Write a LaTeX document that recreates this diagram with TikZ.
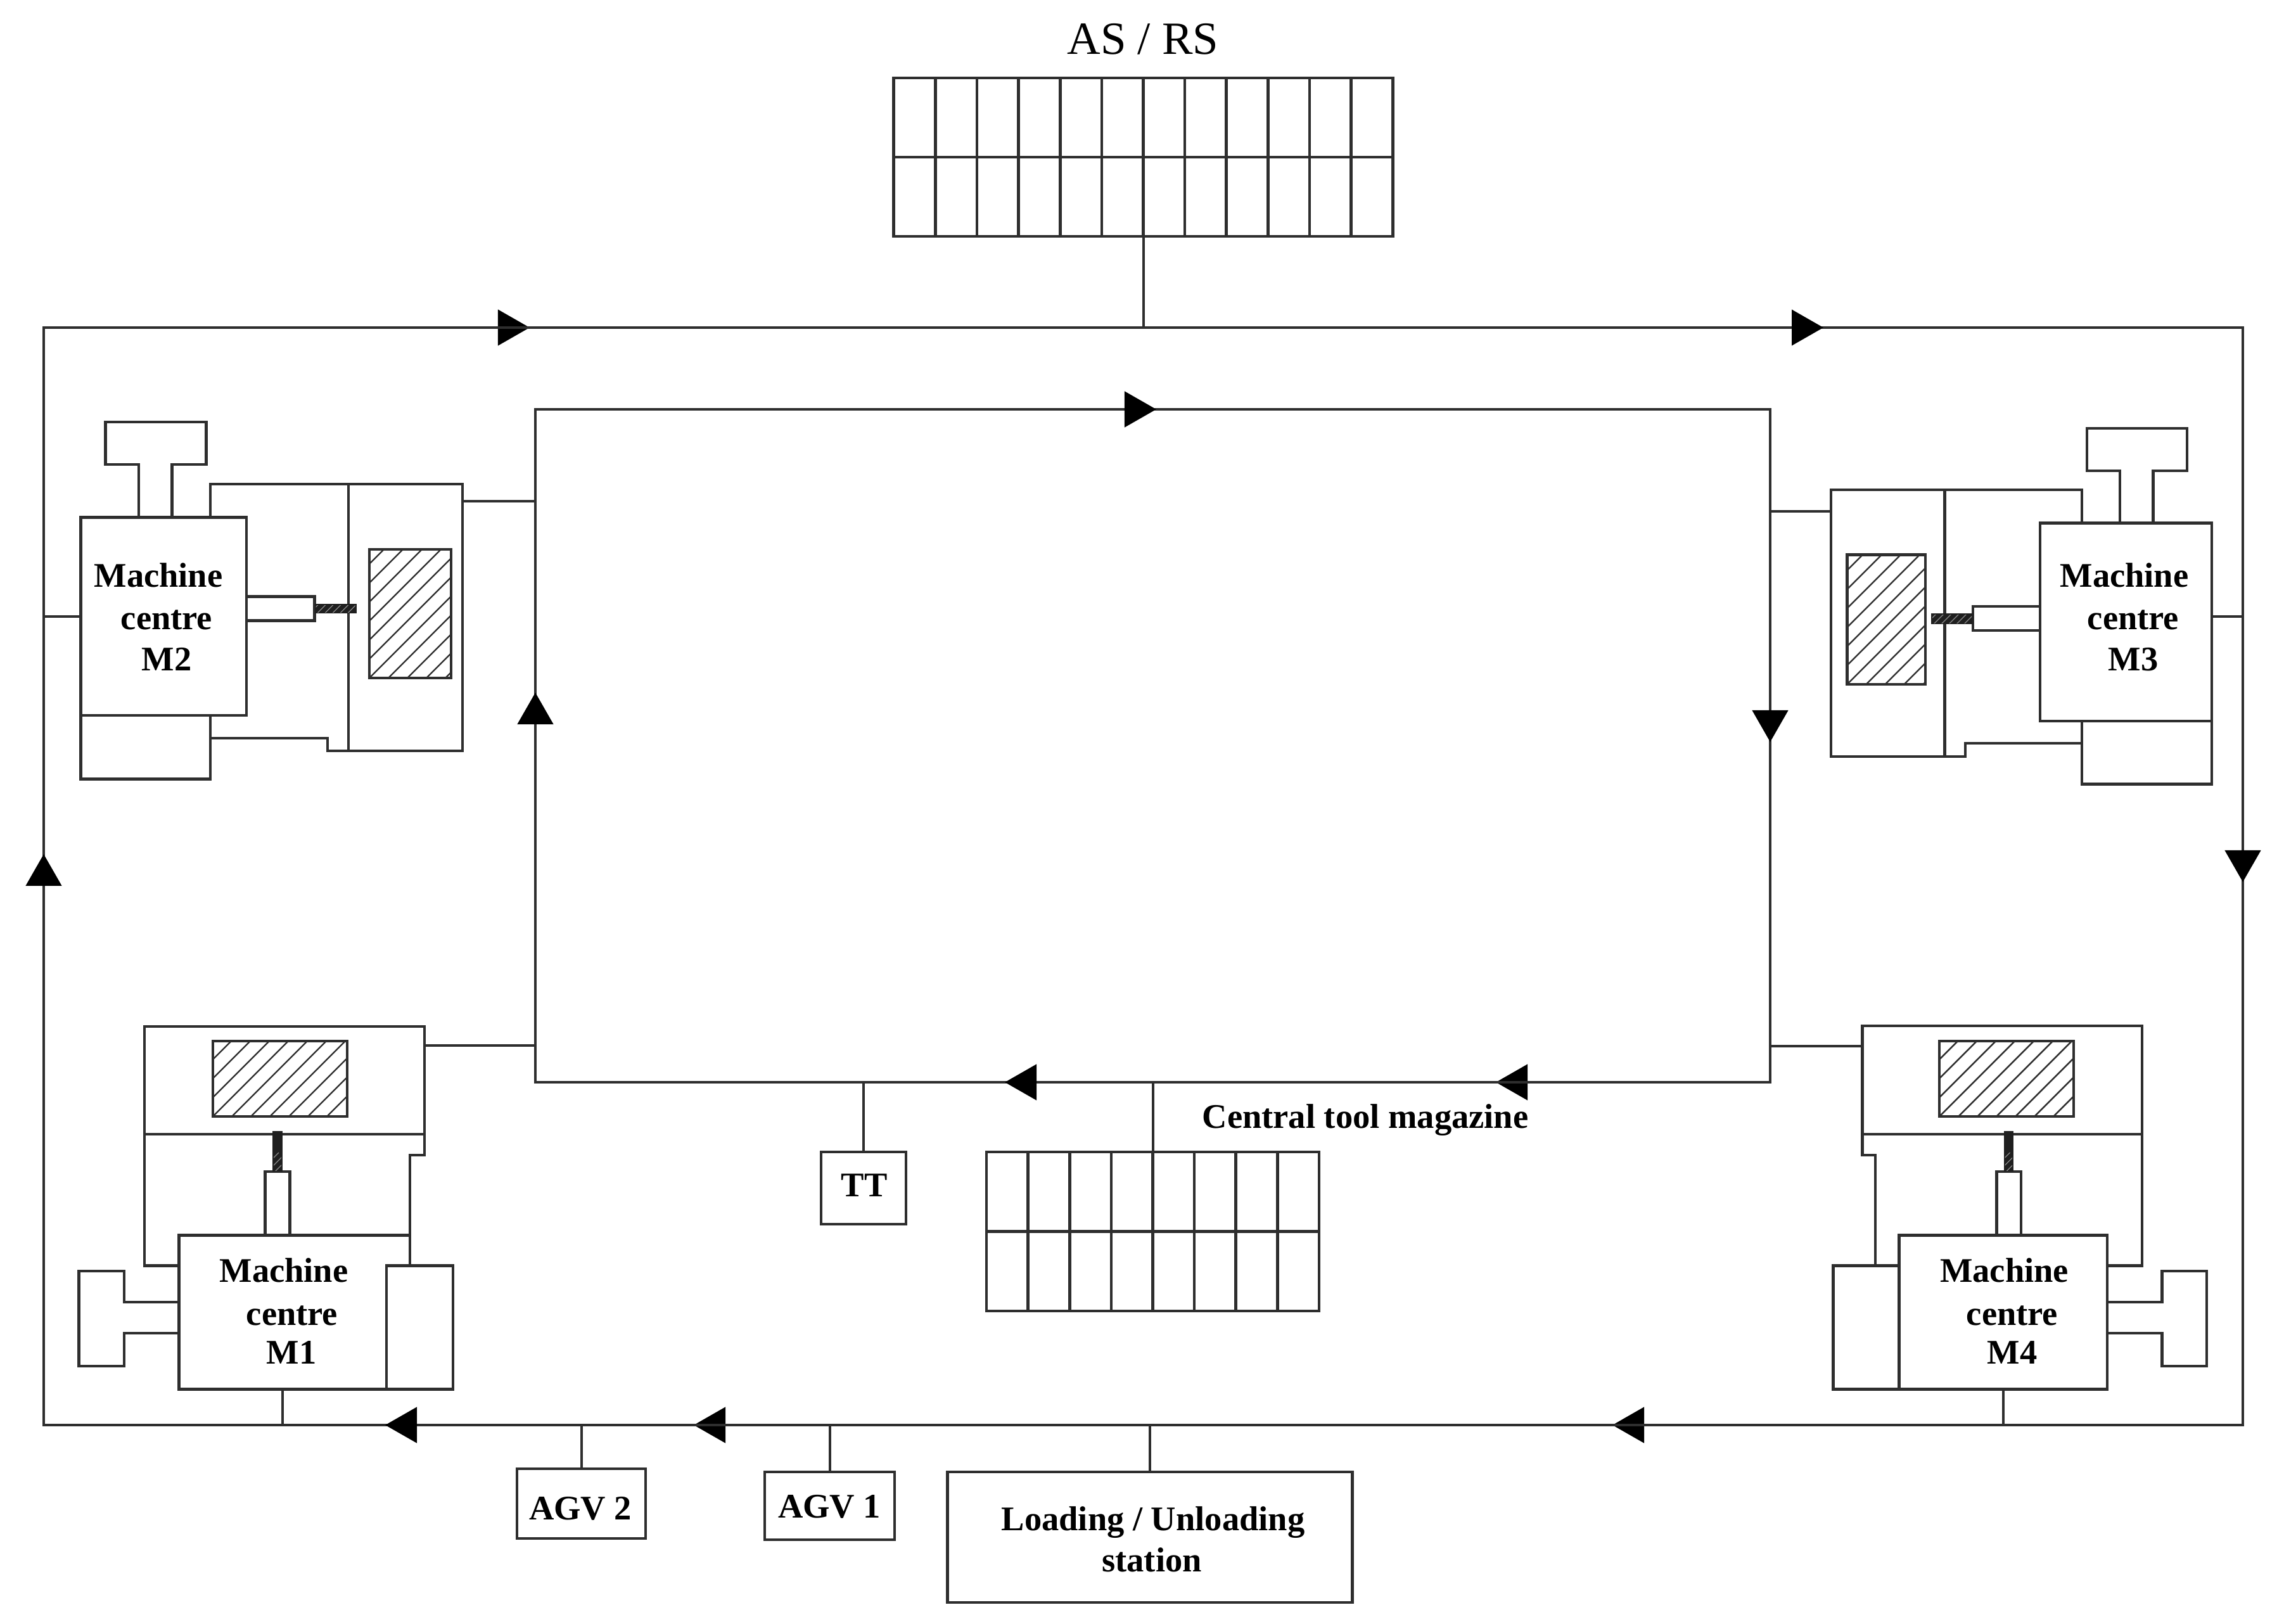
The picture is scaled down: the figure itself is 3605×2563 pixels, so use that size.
\documentclass[tikz,border=0pt]{standalone}
\usepackage{fontspec}
\setmainfont{Liberation Serif}
\usetikzlibrary{arrows.meta}
\definecolor{ink}{gray}{0.18}
\tikzset{
  wire/.style={draw=ink,line width=0.046cm,line join=miter},
  thin wire/.style={draw=ink,line width=0.04cm},
  head/.style={wire,-{Triangle[length=0.5cm,width=0.56cm,color=black]}},
  labelled box/.style={draw=ink,line width=0.046cm,fill=white,inner sep=0pt,outer sep=0pt},
  boldlabel/.style={inner sep=0pt,font=\boldtext,text height=10.5pt,text depth=0pt},
  plainlabel/.style={inner sep=0pt,font=\fontsize{20.7}{24}\selectfont,text height=14pt,text depth=0pt},
}
\newcommand{\boldtext}{\fontsize{15.5}{23}\selectfont\bfseries}
% hatched workpiece: x1 y1 x2 y2
\newcommand{\hatchrect}[4]{%
  \begin{scope}
    \clip (#1,#2) rectangle (#3,#4);
    \foreach \k in {0,30,...,900}
      \draw[draw=ink,line width=0.024cm] ({#1+\k-300},#4) -- ({#1+\k-300+600},{#4-600});
  \end{scope}
  \draw[wire] (#1,#2) rectangle (#3,#4);}
% threaded tool bar: x1 y1 x2 y2
\newcommand{\toolbar}[4]{%
  \fill[black!88] (#1,#2) rectangle (#3,#4);
  \begin{scope}
    \clip ({#1+2},{#2+2}) rectangle ({#3-2},{#4-2});
    \foreach \k in {0,12,...,120}
      \draw[draw=white!55!black,line width=0.012cm] ({#1+\k-20},#4) -- ({#1+\k-20+30},{#4-30});
  \end{scope}}
\begin{document}
\begin{tikzpicture}[x=0.01cm,y=-0.01cm]
\useasboundingbox (0,0) rectangle (3605,2563);
\fill[white] (0,0) rectangle (3605,2563);

% loops
\coordinate (oTL) at (69,517);
\coordinate (oTR) at (3540,517);
\coordinate (oBR) at (3540,2249);
\coordinate (oBL) at (69,2249);
\coordinate (iTL) at (845,646);
\coordinate (iTR) at (2794,646);
\coordinate (iBR) at (2794,1708);
\coordinate (iBL) at (845,1708);
\draw[wire] (oTL) -- (oTR) -- (oBR) -- (oBL) -- cycle;
\draw[wire] (iTL) -- (iTR) -- (iBR) -- (iBL) -- cycle;

% arrowheads on the loops
\coordinate (a1) at (836,517);
\coordinate (a2) at (2878,517);
\coordinate (a3) at (3540,1392);
\coordinate (a4) at (2545,2249);
\coordinate (a5) at (1095,2249);
\coordinate (a6) at (608,2249);
\coordinate (a7) at (69,1348);
\coordinate (b1) at (1825,646);
\coordinate (b2) at (2794,1171);
\coordinate (b3) at (2361,1708);
\coordinate (b4) at (1586,1708);
\coordinate (b5) at (845,1093);
\draw[head] (oTL) -- (a1);
\draw[head] (oTL) -- (a2);
\draw[head] (oTR) -- (a3);
\draw[head] (oBR) -- (a4);
\draw[head] (oBR) -- (a5);
\draw[head] (oBR) -- (a6);
\draw[head] (oBL) -- (a7);
\draw[head] (iTL) -- (b1);
\draw[head] (iTR) -- (b2);
\draw[head] (iBR) -- (b3);
\draw[head] (iBR) -- (b4);
\draw[head] (iBL) -- (b5);

% AS/RS
\node[plainlabel] (asrstitle) at (1804,61) {AS / RS};
\node[labelled box,minimum width=7.87cm,minimum height=2.50cm] (asrs) at (1804.5,248) {};
\foreach \i in {1,...,11}
  \draw[wire] ({1411+\i*65.58},123) -- ({1411+\i*65.58},373);
\draw[wire] (asrs.west) -- (asrs.east);
\draw[thin wire] (asrs.south) -- (asrs.south |- oTL);

% central tool magazine
\node[labelled box,minimum width=5.25cm,minimum height=2.51cm] (ctm) at (1819.5,1943.5) {};
\foreach \i in {1,...,7}
  \draw[wire] ({1557+\i*65.6},1818) -- ({1557+\i*65.6},2069);
\draw[wire] (ctm.west) -- (ctm.east);
\draw[thin wire] (ctm.north |- iBL) -- (ctm.north);
\node[boldlabel] (ctmlabel) at (2155,1762) {Central tool magazine};

% TT
\node[labelled box,minimum width=1.34cm,minimum height=1.14cm] (tt) at (1363,1875) {};
\node[boldlabel] (ttlabel) at (1364,1870) {TT};
\draw[thin wire] (tt.north |- iBL) -- (tt.north);

% AGVs and station
\node[labelled box,minimum width=2.03cm,minimum height=1.10cm] (agv2) at (917.5,2373) {};
\node[boldlabel] (agv2label) at (916,2380) {AGV 2};
\node[labelled box,minimum width=2.05cm,minimum height=1.07cm] (agv1) at (1309.5,2376.5) {};
\node[boldlabel] (agv1label) at (1309,2377) {AGV 1};
\node[labelled box,minimum width=6.385cm,minimum height=2.06cm] (station) at (1815,2426) {};
\node[boldlabel] (stationa) at (1820,2397) {Loading / Unloading};
\node[boldlabel] (stationb) at (1818,2462) {station};
\draw[thin wire] (agv2.north |- oBL) -- (agv2.north);
\draw[thin wire] (agv1.north |- oBL) -- (agv1.north);
\draw[thin wire] (station.north |- oBL) -- (station.north);

% ---------- Machine centre M2
\draw[wire] (219,816.5) -- (219,733) -- (166.5,733) -- (166.5,666) -- (325.5,666) -- (325.5,733) -- (271.5,733) -- (271.5,816.5);
\draw[wire] (332,816.5) -- (332,764) -- (730,764) -- (730,1185) -- (517,1185) -- (517,1165) -- (332,1165);
\draw[wire] (550,764) -- (550,1185);
\hatchrect{583}{867}{712}{1070}
\draw[wire] (127.5,1129) -- (127.5,1229.5) -- (332,1229.5) -- (332,1129);
\draw[wire] (390,941.5) -- (496.5,941.5) -- (496.5,979.5) -- (390,979.5);
\toolbar{496.5}{953}{562.5}{968}
\draw[wire] (127.5,816.5) rectangle (389,1129);
\node[boldlabel] (m2a) at (250,908) {Machine};
\node[boldlabel] (m2b) at (263,975) {centre};
\node[boldlabel] (m2c) at (263,1040) {M2};
\coordinate (m2L) at (127.5,973);
\coordinate (m2R) at (730,791);
\draw[wire] (oTL |- m2L) -- (m2L);
\draw[wire] (m2R) -- (iTL |- m2R);

% ---------- Machine centre M3
\draw[wire] (3346,825.5) -- (3346,743) -- (3294,743) -- (3294,676) -- (3452,676) -- (3452,743) -- (3398.5,743) -- (3398.5,825.5);
\draw[wire] (3286,825.5) -- (3286,773) -- (2890,773) -- (2890,1194) -- (3102,1194) -- (3102,1173) -- (3286,1173);
\draw[wire] (3069.5,773) -- (3069.5,1194);
\hatchrect{2915.5}{875.5}{3039}{1080}
\draw[wire] (3286,1138) -- (3286,1237.5) -- (3491,1237.5) -- (3491,1138);
\draw[wire] (3220,957) -- (3114,957) -- (3114,995) -- (3220,995);
\toolbar{3048}{968}{3114}{985}
\draw[wire] (3220,825.5) rectangle (3491,1138);
\node[boldlabel] (m3a) at (3353,908) {Machine};
\node[boldlabel] (m3b) at (3367,975) {centre};
\node[boldlabel] (m3c) at (3367,1040) {M3};
\coordinate (m3R) at (3491,973);
\coordinate (m3L) at (2890,807);
\draw[wire] (m3R) -- (oTR |- m3R);
\draw[wire] (iTR |- m3L) -- (m3L);

% ---------- Machine centre M1
\draw[wire] (228,1620) rectangle (670,1790);
\draw[wire] (228,1790) -- (228,1997.5) -- (282.5,1997.5);
\draw[wire] (670,1790) -- (670,1823) -- (647,1823) -- (647,1997.5);
\hatchrect{336}{1643}{548}{1762}
\draw[wire] (610,1997.5) rectangle (715,2192.5);
\draw[wire] (418.5,1949.5) -- (418.5,1849) -- (457.5,1849) -- (457.5,1949.5);
\toolbar{430}{1785}{446}{1849}
\draw[wire] (610,2192.5) -- (282.5,2192.5) -- (282.5,1949.5) -- (647,1949.5);
\draw[wire] (282.5,2055) -- (196,2055) -- (196,2006) -- (124.5,2006) -- (124.5,2156) -- (196,2156) -- (196,2104) -- (282.5,2104);
\node[boldlabel] (m1a) at (448,2005) {Machine};
\node[boldlabel] (m1b) at (461,2073) {centre};
\node[boldlabel] (m1c) at (460,2134) {M1};
\coordinate (m1B) at (446,2192.5);
\coordinate (m1R) at (670,1650);
\draw[wire] (m1B) -- (m1B |- oBL);
\draw[wire] (m1R) -- (iTL |- m1R);

% ---------- Machine centre M4
\draw[wire] (2939.5,1619) rectangle (3381,1790);
\draw[wire] (2939.5,1790) -- (2939.5,1823) -- (2960,1823) -- (2960,1997.5);
\draw[wire] (3381,1790) -- (3381,1997.5) -- (3326,1997.5);
\hatchrect{3061}{1643}{3273}{1762}
\draw[wire] (2893.5,1997.5) rectangle (2997.5,2192.5);
\draw[wire] (3151.5,1949.5) -- (3151.5,1849) -- (3190,1849) -- (3190,1949.5);
\toolbar{3162.5}{1785}{3178}{1849}
\draw[wire] (2997.5,1949.5) rectangle (3326,2192.5);
\draw[wire] (3326,2055) -- (3412.5,2055) -- (3412.5,2006) -- (3483,2006) -- (3483,2156) -- (3412.5,2156) -- (3412.5,2104) -- (3326,2104);
\node[boldlabel] (m4a) at (3163.5,2005) {Machine};
\node[boldlabel] (m4b) at (3176,2073) {centre};
\node[boldlabel] (m4c) at (3176,2134) {M4};
\coordinate (m4B) at (3162,2192.5);
\coordinate (m4L) at (2939.5,1651);
\draw[wire] (m4B) -- (m4B |- oBR);
\draw[wire] (iTR |- m4L) -- (m4L);
\end{tikzpicture}
\end{document}
